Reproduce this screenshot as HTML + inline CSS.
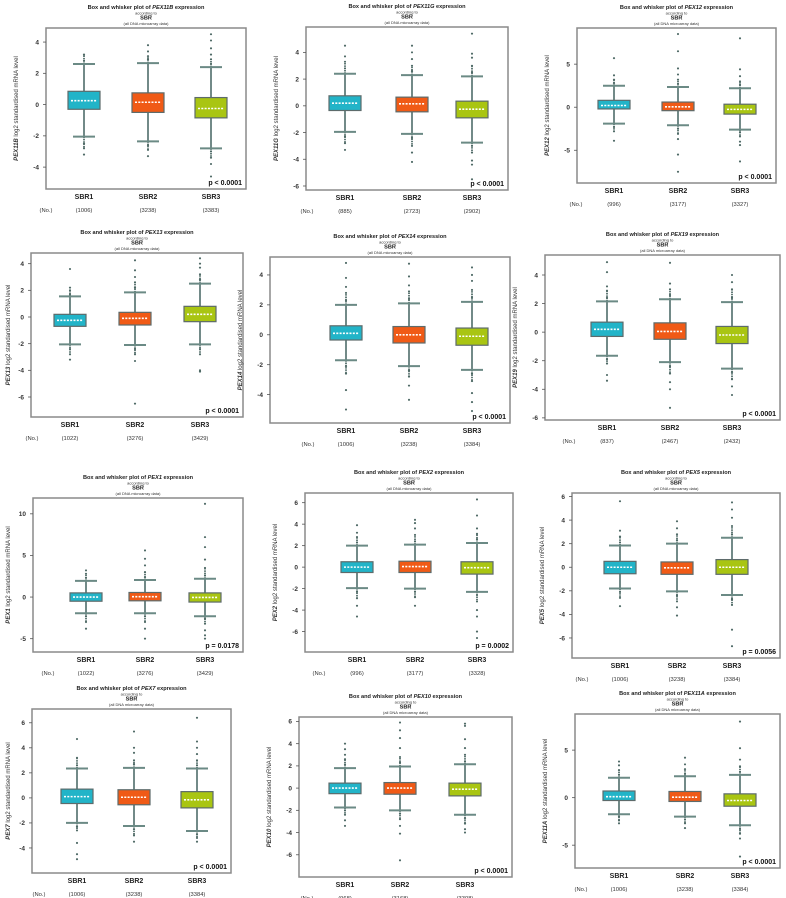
<!DOCTYPE html>
<html><head><meta charset="utf-8"><style>
html,body{margin:0;padding:0;background:#fff;}
svg{display:block;font-family:"Liberation Sans",sans-serif;}
</style></head><body>
<svg id="fig" width="786" height="898" viewBox="0 0 786 898" xmlns="http://www.w3.org/2000/svg"></svg>
<script>
const genes=["PEX11B","PEX11G","PEX12","PEX13","PEX14","PEX19","PEX1","PEX2","PEX5","PEX7","PEX10","PEX11A"];
const groups=["SBR1","SBR2","SBR3"];
const pLabels=["p < 0.0001","p < 0.0001","p < 0.0001","p < 0.0001","p < 0.0001","p < 0.0001","p = 0.0178","p = 0.0002","p = 0.0056","p < 0.0001","p < 0.0001","p < 0.0001"];
const counts=[[1006,3238,3383],[885,2723,2902],[996,3177,3327],[1022,3276,3429],[1006,3238,3384],[837,2467,2432],[1022,3276,3429],[996,3177,3328],[1006,3238,3384],[1006,3238,3384],[968,3168,3308],[1006,3238,3384]];
const q1s=[[-0.3,-0.5,-0.85],[-0.35,-0.45,-0.9],[-0.2,-0.4,-0.8],[-0.7,-0.6,-0.35],[-0.35,-0.55,-0.7],[-0.3,-0.5,-0.8],[-0.5,-0.45,-0.6],[-0.5,-0.5,-0.65],[-0.55,-0.6,-0.6],[-0.45,-0.55,-0.8],[-0.5,-0.55,-0.7],[-0.3,-0.4,-0.9]];
const medians=[[0.25,0.15,-0.25],[0.2,0.15,-0.25],[0.2,0.05,-0.25],[-0.25,-0.1,0.2],[0.1,0.0,-0.1],[0.2,0.05,-0.2],[0.0,0.05,-0.05],[0.0,0.05,-0.05],[0.0,-0.05,0.0],[0.1,0.05,-0.15],[0.0,0.0,-0.1],[0.1,0.05,-0.3]];
const q3s=[[0.85,0.75,0.45],[0.75,0.65,0.35],[0.8,0.6,0.35],[0.2,0.35,0.8],[0.6,0.55,0.45],[0.7,0.65,0.4],[0.5,0.55,0.5],[0.5,0.55,0.5],[0.5,0.45,0.65],[0.7,0.65,0.5],[0.45,0.5,0.45],[0.7,0.65,0.4]];
const whiskerLow=[[-2.05,-2.35,-2.8],[-1.95,-2.1,-2.75],[-1.9,-2.1,-2.6],[-2.05,-2.1,-2.05],[-1.7,-2.1,-2.35],[-1.65,-2.1,-2.55],[-1.95,-1.95,-2.3],[-1.95,-2.0,-2.3],[-1.8,-2.05,-2.35],[-2.0,-2.25,-2.65],[-1.75,-2.0,-2.4],[-1.75,-2.0,-2.9]];
const whiskerHigh=[[2.6,2.65,2.4],[2.4,2.3,2.2],[2.5,2.35,2.2],[1.55,1.85,2.5],[2.0,2.1,2.2],[2.15,2.3,2.1],[1.95,2.05,2.2],[2.0,2.1,2.25],[1.85,2.0,2.5],[2.35,2.4,2.35],[1.8,1.95,2.15],[2.1,2.25,2.4]];
const outHigh=[[[2.8,3.2],[2.9,3.1,3.4,3.8],[2.6,2.9,3.2,3.6,4.1,4.5]],[[2.8,3.3,3.7,4.5],[2.6,3.0,3.5,4.0,4.5],[2.5,3.0,3.6,3.9,5.4]],[[2.8,3.2,3.7,5.7],[2.7,3.2,3.8,4.5,6.5,8.5],[2.6,3.0,3.6,4.4,8.0]],[[1.7,2.0,2.2,3.6],[2.2,2.6,3.0,3.5,4.25],[2.8,3.2,3.7,4.0,4.4]],[[2.3,2.8,3.2,3.8,4.8],[2.4,2.9,3.3,3.9,4.75],[2.5,3.0,3.6,4.0,4.5]],[[2.4,2.9,3.2,4.2,4.9],[2.6,3.0,3.4,4.85],[2.4,3.0,3.5,4.0]],[[2.3,2.8,3.2],[2.4,3.0,3.8,4.6,5.6],[2.6,3.5,4.5,6.0,7.2,11.2]],[[2.3,2.8,3.2,3.9],[2.4,3.0,3.6,4.1,4.4],[2.6,3.1,3.6,4.8,6.3]],[[2.1,2.6,3.1,5.6],[2.3,2.8,3.3,3.9],[2.8,3.5,4.2,4.9,5.5]],[[2.6,3.2,4.7],[2.7,3.0,3.6,4.0,5.3],[2.6,3.0,3.5,4.0,4.5,6.4]],[[2.1,2.6,3.0,3.5,4.0],[2.3,2.8,3.6,4.5,5.2,5.9],[2.4,3.0,3.6,4.4,5.6,5.8]],[[2.4,2.9,3.4,3.8],[2.5,3.0,3.5,4.2],[2.7,3.3,4.0,5.2,8.0]]];
const outLow=[[[-2.5,-2.8,-3.2],[-2.6,-2.9,-3.3],[-3.0,-3.4,-3.8,-4.6]],[[-2.3,-2.8,-3.3],[-2.4,-3.0,-3.5,-4.2],[-3.0,-3.5,-4.1,-4.4,-5.5]],[[-2.3,-2.8,-3.9],[-2.5,-3.1,-3.7,-5.5,-7.5],[-2.9,-3.4,-4.0,-4.4,-6.3]],[[-2.4,-2.8,-3.2],[-2.4,-2.8,-3.3,-6.5],[-2.4,-2.8,-4.0,-4.1]],[[-2.1,-2.6,-3.7,-5.0],[-2.4,-2.8,-3.4,-4.35],[-2.6,-3.1,-3.9,-4.5,-5.1]],[[-1.9,-2.2,-3.0,-3.4],[-2.4,-2.9,-3.5,-4.0,-5.3],[-2.8,-3.3,-3.8,-4.4]],[[-2.3,-3.0,-3.8],[-2.3,-3.0,-3.8,-5.0],[-2.6,-3.2,-4.0,-4.6,-5.0]],[[-2.3,-2.9,-3.6,-4.6],[-2.3,-2.8,-3.6],[-2.6,-3.2,-4.0,-4.6,-6.0,-6.6]],[[-2.1,-2.6,-3.3],[-2.4,-2.9,-3.4,-4.1],[-2.7,-3.2,-5.3,-6.7]],[[-2.3,-2.6,-3.6,-4.5,-4.9],[-2.5,-3.0,-3.5],[-2.9,-3.2,-3.5]],[[-2.0,-2.4,-2.9,-3.4],[-2.3,-2.8,-3.4,-4.1,-6.5],[-2.7,-3.2,-3.7,-4.0]],[[-2.0,-2.4,-2.7],[-2.3,-2.7,-3.2],[-3.3,-3.8,-4.3,-6.2]]];
const yTicks=[[-4,-2,0,2,4],[-6,-4,-2,0,2,4],[-5,0,5],[-6,-4,-2,0,2,4],[-4,-2,0,2,4],[-6,-4,-2,0,2,4],[-5,0,5,10],[-6,-4,-2,0,2,4,6],[-6,-4,-2,0,2,4,6],[-4,-2,0,2,4,6],[-6,-4,-2,0,2,4,6],[-5,0,5]];
const yMin=[-5.4,-6.3,-8.8,-7.5,-5.9,-6.15,-6.6,-7.9,-7.7,-6.0,-8.0,-7.4];
const yMax=[4.9,5.9,9.2,4.8,5.2,5.4,11.9,6.9,6.3,7.1,6.4,8.8];

// layout (pixel geometry)
const frames=[[46,28,246,189],[306,27,508,190],[577,28,776,183],[31,253,243,417],[270,257,510,423],[545,255,780,420],[33,498,243,652],[305,493,513,652],[572,493,780,658],[32,709,231,873],[299,717,512,877],[575,714,780,868]];
const centers=[[84,148,211],[345,412,472],[614,678,740],[70,135,200],[346,409,472],[607,670,732],[86,145,205],[357,415,477],[620,677,732],[77,134,197],[345,400,465],[619,685,740]];
const fills=["#22b4c8","#f05a16","#a9c512"];
const NS="http://www.w3.org/2000/svg";
const svg=document.getElementById('fig');
function mk(tag,attrs,parent,text){const e=document.createElementNS(NS,tag);for(const k in attrs)e.setAttribute(k,attrs[k]);if(text!==undefined)e.textContent=text;parent.appendChild(e);return e;}

genes.forEach((g,i)=>{
  const [x0,y0,x1,y1]=frames[i];
  const ys=v=>y1-(v-yMin[i])/(yMax[i]-yMin[i])*(y1-y0);
  const grp=mk('g',{},svg);
  
  
  const cx=(x0+x1)/2;
  const t=mk('text',{x:cx,y:y0-19,'font-size':5.6,'font-weight':'bold','text-anchor':'middle',fill:'#222'},grp);
  
  
  mk('tspan',{},t,'Box and whisker plot of ');
  mk('tspan',{'font-style':'italic'},t,g);
  mk('tspan',{},t,' expression');
  const s1=mk('text',{x:cx,y:y0-13.5,'font-size':4,'text-anchor':'middle',fill:'#333'},grp,'according to');
  
  
  const s2=mk('text',{x:cx,y:y0-8.5,'font-size':5.6,'font-weight':'bold','text-anchor':'middle',fill:'#222'},grp,'SBR');
  
  
  const s3=mk('text',{x:cx,y:y0-3,'font-size':4,'text-anchor':'middle',fill:'#333'},grp,'(all DNA microarray data)');
  
  
  const fr=mk('rect',{x:x0,y:y0,width:x1-x0,height:y1-y0,fill:'none',stroke:'#8a8a8a','stroke-width':1.5},grp);
  
  
  yTicks[i].forEach(v=>{
    const y=ys(v);
    const tk=mk('line',{x1:x0-3,x2:x0,y1:y,y2:y,stroke:'#555','stroke-width':0.8},grp);
    
    
    const tl=mk('text',{x:x0-7,y:y+2.3,'font-size':6.5,'font-weight':'bold','text-anchor':'end',fill:'#333'},grp,String(v));
    
    
  });
  const ly=(y0+y1)/2, lx=Math.max(x0-28,10);
  const yl=mk('text',{x:lx,y:ly,'font-size':6,'text-anchor':'middle',fill:'#333',transform:`rotate(-90 ${lx} ${ly})`},grp);
  
  
  mk('tspan',{'font-weight':'bold','font-style':'italic'},yl,g);
  mk('tspan',{},yl,' log2 standardised mRNA level');
  groups.forEach((gr,j)=>{
    const c=centers[i][j], w=32;
    const bg=mk('g',{},grp);
    
    
    mk('line',{x1:c,x2:c,y1:ys(whiskerLow[i][j]),y2:ys(whiskerHigh[i][j]),stroke:'#4f6d6a','stroke-width':1.6},bg);
    const oh=outHigh[i][j], ol=outLow[i][j];
    // dense outlier clusters near the whiskers
    mk('line',{x1:c,x2:c,y1:ys(whiskerHigh[i][j]),y2:ys(oh[Math.min(1,oh.length-1)]),stroke:'#3e5c58','stroke-width':1.6,'stroke-dasharray':'1.5 0.8'},bg);
    mk('line',{x1:c,x2:c,y1:ys(whiskerLow[i][j]),y2:ys(ol[Math.min(1,ol.length-1)]),stroke:'#3e5c58','stroke-width':1.6,'stroke-dasharray':'1.5 0.8'},bg);
    [whiskerLow[i][j],whiskerHigh[i][j]].forEach(v=>{
      mk('line',{x1:c-11,x2:c+11,y1:ys(v),y2:ys(v),stroke:'#6b8a85','stroke-width':2},bg);
    });
    oh.concat(ol).forEach(v=>{
      mk('circle',{cx:c,cy:ys(v),r:1.05,fill:'#4a6662'},bg);
    });
    const top=ys(q3s[i][j]), bot=ys(q1s[i][j]);
    mk('rect',{x:c-w/2,y:top,width:w,height:bot-top,fill:fills[j],stroke:'#5d6b6b','stroke-width':1.2},bg);
    mk('line',{x1:c-w/2+3,x2:c+w/2-3,y1:ys(medians[i][j]),y2:ys(medians[i][j]),stroke:'#fff','stroke-width':1.6,'stroke-dasharray':'2 1.3'},bg);
    const xl=mk('text',{x:c,y:y1+10,'font-size':7,'font-weight':'bold','text-anchor':'middle',fill:'#222'},grp,gr);
    
    
    const cl=mk('text',{x:c,y:y1+23,'font-size':5.8,'text-anchor':'middle',fill:'#333'},grp,'('+counts[i][j]+')');
    
    
  });
  const no=mk('text',{x:centers[i][0]-38,y:y1+23,'font-size':5.8,'text-anchor':'middle',fill:'#333'},grp,'(No.)');
  
  
  const pv=mk('text',{x:x1-4,y:y1-4,'font-size':7,'font-weight':'bold','text-anchor':'end',fill:'#111'},grp,pLabels[i]);
  
  
});
</script>
</body></html>
